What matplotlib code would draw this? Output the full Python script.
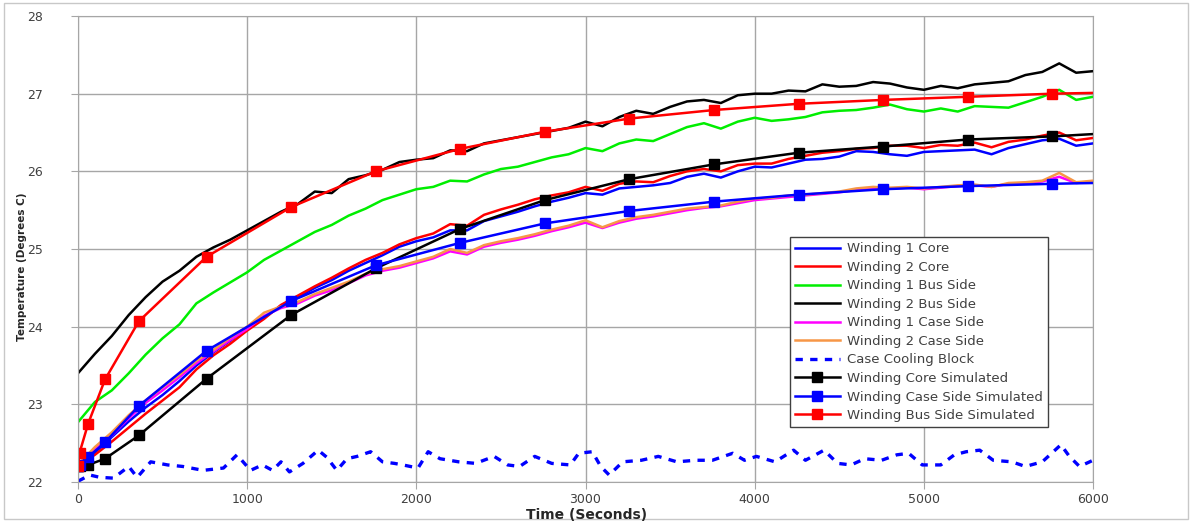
import matplotlib
matplotlib.use("Agg")
import matplotlib.pyplot as plt
from matplotlib.patches import Rectangle
import numpy as np

# measured data, sampled every 100 s
t_meas = np.arange(0, 6001, 100)

w1_core = [22.22, 22.38, 22.58, 22.78, 22.96, 23.12, 23.30, 23.50, 23.67, 23.82,
           23.98, 24.12, 24.27, 24.38, 24.50, 24.60, 24.72, 24.82, 24.92, 25.03,
           25.10, 25.15, 25.24, 25.24, 25.36, 25.42, 25.48, 25.55, 25.61, 25.66,
           25.72, 25.70, 25.78, 25.80, 25.82, 25.85, 25.93, 25.97, 25.92, 26.00,
           26.06, 26.05, 26.10, 26.15, 26.16, 26.19, 26.26, 26.25, 26.22, 26.20,
           26.25, 26.26, 26.27, 26.28, 26.22, 26.30, 26.35, 26.40, 26.42, 26.33,
           26.36]
w2_core = [22.22, 22.35, 22.52, 22.70, 22.88, 23.05, 23.22, 23.45, 23.63, 23.78,
           23.95, 24.10, 24.28, 24.40, 24.52, 24.63, 24.75, 24.86, 24.95, 25.06,
           25.14, 25.20, 25.32, 25.30, 25.44, 25.51, 25.57, 25.64, 25.69, 25.73,
           25.80, 25.75, 25.84, 25.87, 25.86, 25.94, 26.00, 26.03, 26.00, 26.08,
           26.10, 26.10, 26.16, 26.20, 26.24, 26.26, 26.29, 26.30, 26.33, 26.33,
           26.30, 26.34, 26.33, 26.37, 26.31, 26.38, 26.41, 26.46, 26.50, 26.40,
           26.43]
w1_bus = [22.77, 23.03, 23.18, 23.40, 23.64, 23.85, 24.03, 24.30, 24.44, 24.57,
          24.70, 24.86, 24.98, 25.10, 25.22, 25.31, 25.43, 25.52, 25.63, 25.70,
          25.77, 25.80, 25.88, 25.87, 25.96, 26.03, 26.06, 26.12, 26.18, 26.22,
          26.30, 26.26, 26.36, 26.41, 26.39, 26.48, 26.57, 26.62, 26.55, 26.64,
          26.69, 26.65, 26.67, 26.70, 26.76, 26.78, 26.79, 26.82, 26.86, 26.80,
          26.77, 26.81, 26.77, 26.84, 26.83, 26.82, 26.89, 26.96, 27.05, 26.92,
          26.96]
w2_bus = [23.40, 23.65, 23.88, 24.15, 24.38, 24.58, 24.72, 24.90, 25.02, 25.12,
          25.24, 25.36, 25.48, 25.58, 25.74, 25.72, 25.90, 25.95, 26.02, 26.12,
          26.15, 26.17, 26.27, 26.26, 26.36, 26.40, 26.44, 26.48, 26.52, 26.56,
          26.64, 26.58, 26.70, 26.78, 26.74, 26.83, 26.90, 26.92, 26.88, 26.98,
          27.00, 27.00, 27.04, 27.03, 27.12, 27.09, 27.10, 27.15, 27.13, 27.08,
          27.05, 27.10, 27.07, 27.12, 27.14, 27.16, 27.24, 27.28, 27.39, 27.27,
          27.29]
w1_case = [22.22, 22.42, 22.60, 22.82, 23.02, 23.18, 23.35, 23.53, 23.68, 23.83,
           23.97, 24.14, 24.24, 24.30, 24.40, 24.47, 24.56, 24.66, 24.72, 24.76,
           24.82, 24.88, 24.97, 24.93, 25.03, 25.08, 25.12, 25.17, 25.23, 25.28,
           25.34, 25.27, 25.34, 25.39, 25.42, 25.46, 25.50, 25.53, 25.55, 25.59,
           25.63, 25.65, 25.67, 25.69, 25.71, 25.73, 25.76, 25.78, 25.78, 25.79,
           25.77, 25.79, 25.81, 25.82, 25.80, 25.84, 25.85, 25.87, 25.93, 25.85,
           25.87]
w2_case = [22.22, 22.45, 22.64, 22.86, 23.05, 23.22, 23.38, 23.56, 23.70, 23.86,
           24.00, 24.18, 24.26, 24.32, 24.42, 24.50, 24.58, 24.68, 24.74, 24.78,
           24.84, 24.90, 25.00, 24.95, 25.05, 25.10, 25.14, 25.19, 25.25, 25.30,
           25.37, 25.28, 25.36, 25.41, 25.44, 25.48, 25.52, 25.54, 25.56, 25.61,
           25.65, 25.66, 25.69, 25.70, 25.72, 25.74, 25.78, 25.80, 25.79, 25.80,
           25.78, 25.80, 25.82, 25.83, 25.80, 25.85, 25.86, 25.88, 25.98, 25.86,
           25.88]

# cooling block
cool_t = [0, 70, 130, 210, 300, 350, 430, 530, 620, 740,
          860, 940, 1020, 1090, 1150, 1200, 1250, 1330, 1420, 1470,
          1530, 1590, 1650, 1730, 1800, 1870, 1920, 2010, 2070, 2140,
          2250, 2350, 2460, 2540, 2610, 2700, 2800, 2910, 2960, 3040,
          3090, 3140, 3220, 3330, 3430, 3540, 3650, 3750, 3870, 3940,
          4010, 4120, 4230, 4300, 4410, 4490, 4570, 4650, 4750, 4840,
          4910, 4990, 5100, 5180, 5250, 5330, 5410, 5520, 5600, 5700,
          5810, 5860, 5920, 6000]
cool_v = [22.01, 22.09, 22.06, 22.05, 22.20, 22.06, 22.26, 22.22, 22.20, 22.15,
          22.18, 22.35, 22.15, 22.22, 22.15, 22.26, 22.13, 22.24, 22.41, 22.32,
          22.15, 22.30, 22.33, 22.39, 22.26, 22.24, 22.22, 22.18, 22.39, 22.30,
          22.26, 22.24, 22.33, 22.22, 22.20, 22.33, 22.24, 22.22, 22.37, 22.39,
          22.20, 22.09, 22.26, 22.28, 22.33, 22.26, 22.28, 22.28, 22.37, 22.28,
          22.33, 22.26, 22.41, 22.28, 22.41, 22.24, 22.22, 22.30, 22.28, 22.35,
          22.37, 22.22, 22.22, 22.35, 22.39, 22.41, 22.28, 22.26, 22.20, 22.26,
          22.48, 22.33, 22.20, 22.28]

# simulated
t_sim = [0, 10, 60, 160, 360, 760, 1260, 1760, 2260, 2760, 3260, 3760,
         4260, 4760, 5260, 5760, 6000]
sim_core = [22.20, 22.20, 22.22, 22.30, 22.60, 23.33, 24.15, 24.75, 25.26, 25.63,
            25.90, 26.09, 26.24, 26.32, 26.41, 26.45, 26.48]
sim_case = [22.20, 22.22, 22.32, 22.51, 22.98, 23.69, 24.33, 24.79, 25.08, 25.33,
            25.49, 25.61, 25.70, 25.77, 25.81, 25.84, 25.85]
sim_bus = [22.20, 22.38, 22.75, 23.32, 24.07, 24.90, 25.54, 26.00, 26.29, 26.51,
           26.68, 26.79, 26.87, 26.92, 26.96, 27.00, 27.01]

fig = plt.figure(figsize=(11.92, 5.22), dpi=100)
ax = fig.add_axes([0.0654, 0.0766, 0.8516, 0.8927])

lw = 1.8
ax.plot(t_meas, w1_core, color="#0000ff", lw=lw, label="Winding 1 Core")
ax.plot(t_meas, w2_core, color="#ff0000", lw=lw, label="Winding 2 Core")
ax.plot(t_meas, w1_bus, color="#00ee00", lw=lw, label="Winding 1 Bus Side")
ax.plot(t_meas, w2_bus, color="#000000", lw=lw, label="Winding 2 Bus Side")
ax.plot(t_meas, w1_case, color="#ff00ff", lw=lw, label="Winding 1 Case Side")
ax.plot(t_meas, w2_case, color="#f79646", lw=lw, label="Winding 2 Case Side")
ax.plot(cool_t, cool_v, color="#0000ff", lw=2.4, ls=(0, (2.2, 2.2)),
        label="Case Cooling Block")

mk = dict(marker="s", markersize=6.5, markevery=slice(0, -1), lw=1.8)
ax.plot(t_sim, sim_core, color="#000000", label="Winding Core Simulated", **mk)
ax.plot(t_sim, sim_case, color="#0000ff", label="Winding Case Side Simulated", **mk)
ax.plot(t_sim, sim_bus, color="#ff0000", label="Winding Bus Side Simulated", **mk)

ax.set_xlim(0, 6000)
ax.set_ylim(22, 28)
ax.set_xticks(range(0, 6001, 1000))
ax.set_yticks(range(22, 29))
ax.grid(True, color="#a6a6a6", lw=1)
ax.set_axisbelow(True)
for s in ax.spines.values():
    s.set_color("#a6a6a6")
ax.tick_params(axis="both", direction="out", length=5, color="#a6a6a6",
               labelsize=9, labelcolor="#404040")
ax.tick_params(axis="x", pad=3)
ax.tick_params(axis="y", pad=20)

fig.text(22 / 1192, 1 - 267 / 522, "Temperature (Degrees C)", rotation=90,
         ha="center", va="center", fontsize=7.5, fontweight="bold", color="#262626")
fig.text(0.492, 1 - 515 / 522, "Time (Seconds)", ha="center", va="center",
         fontsize=10, fontweight="bold", color="#262626")

leg = ax.legend(loc="upper left", bbox_to_anchor=(0.701, 0.526), borderaxespad=0,
                fontsize=9.5, handlelength=3.4, numpoints=1, labelspacing=0.42,
                fancybox=False, framealpha=1, edgecolor="#404040",
                borderpad=0.4, handletextpad=0.55)
leg.get_frame().set_linewidth(1)
for txt in leg.get_texts():
    txt.set_color("#404040")

fig.patches.append(Rectangle((0.003, 0.006), 0.994, 0.988, transform=fig.transFigure,
                             fill=False, edgecolor="#c8c8c8", lw=1))

fig.savefig("out.png", dpi=100)
